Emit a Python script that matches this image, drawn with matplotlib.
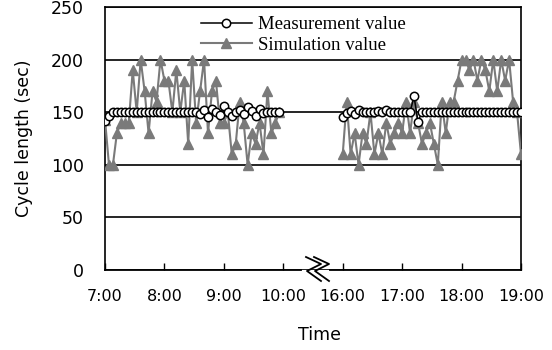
"""Cycle length: measurement vs simulation, morning and evening peaks."""

import matplotlib

matplotlib.use("Agg")
import matplotlib.pyplot as plt
import numpy as np

# sample times, minutes after 7:00 (afternoon block placed one hour after 10:00)
am_time = np.arange(0, 180, 4)
pm_time = np.arange(240, 424, 4)

am_meas = [142, 146, 150, 150, 150, 150, 150, 150, 150, 150, 150, 150,
           150, 150, 150, 150, 150, 150, 150, 150, 150, 150, 150, 150,
           148, 152, 145, 153, 150, 147, 156, 150, 146, 150, 152, 148,
           155, 151, 146, 153, 149, 150, 150, 150, 150]
am_sim = [143, 100, 100, 130, 140, 140, 140, 190, 150, 200, 170, 130,
          170, 160, 200, 180, 180, 150, 190, 150, 180, 120, 200, 140,
          170, 200, 130, 170, 180, 140, 140, 150, 110, 120, 160, 140,
          100, 130, 120, 140, 110, 170, 130, 140, 150]

pm_meas = [145, 149, 151, 148, 152, 150, 150, 150, 150, 151, 150, 152,
           150, 150, 150, 150, 150, 150, 165, 141, 150, 150, 150, 150,
           150, 150, 150, 150, 150, 150, 150, 150, 150, 150, 150, 150,
           150, 150, 150, 150, 150, 150, 150, 150, 150, 150]
pm_sim = [110, 160, 110, 130, 100, 130, 120, 150, 110, 130, 110, 140,
          120, 130, 140, 130, 160, 130, 160, 140, 120, 130, 140, 120,
          100, 160, 130, 160, 160, 180, 200, 200, 190, 200, 180, 200,
          190, 170, 200, 170, 200, 180, 200, 160, 150, 110]

tick_pos = [0, 60, 120, 180, 240, 300, 360, 420]
tick_labels = ["7:00", "8:00", "9:00", "10:00", "16:00", "17:00", "18:00", "19:00"]

W, H = 552, 350
fig = plt.figure(figsize=(W / 100, H / 100), dpi=100)
ax = fig.add_axes([105 / W, 1 - 270 / H, 416 / W, 263 / H])

gray = "#7a7a7a"
for t, s in [(am_time, am_sim), (pm_time, pm_sim)]:
    sim_line, = ax.plot(t, s, color=gray, lw=1.5, marker="^", ms=6.5, mfc=gray, mec=gray,
                        zorder=3)
for t, m in [(am_time, am_meas), (pm_time, pm_meas)]:
    meas_line, = ax.plot(t, m, color="black", lw=1.1, marker="o", ms=6, mfc="white",
                         mec="black", mew=1.1, zorder=4)

ax.set_xlim(0, 420)
ax.set_ylim(0, 250)
ax.set_yticks([0, 50, 100, 150, 200, 250])
ax.set_xticks(tick_pos)
ax.set_xticklabels(tick_labels, fontsize=11.5)
ax.tick_params(axis="x", direction="in", length=5, width=1, pad=14)
ax.tick_params(axis="y", direction="in", length=0, labelsize=12.5, pad=15)
ax.yaxis.grid(True, color="black", lw=1.2)
ax.set_axisbelow(True)
for sp in ["left", "right", "top"]:
    ax.spines[sp].set_linewidth(1.2)
ax.spines["bottom"].set_visible(False)

# broken x axis line with a break mark
px = lambda x, y: (x / W, 1 - y / H)
for x0, x1 in [(105, 301), (330, 521)]:
    fig.add_artist(plt.Line2D([x0 / W, x1 / W], [1 - 270 / H] * 2, color="black", lw=1.3,
                              transform=fig.transFigure))
for dx in (0, 8):
    pts = [px(306 + dx, 257), px(321 + dx, 264), px(307 + dx, 271), px(321 + dx, 281)]
    xs, ys = zip(*pts)
    fig.add_artist(plt.Line2D(xs, ys, color="black", lw=1.3, transform=fig.transFigure))

ax.set_ylabel("Cycle length (sec)", fontsize=12.5, labelpad=13)
fig.text(319 / W, 1 - 335 / H, "Time", fontsize=12.5, ha="center", va="center")

ax.legend([meas_line, sim_line], ["Measurement value", "Simulation value"],
          loc="upper left", bbox_to_anchor=(0.19, 1.03), frameon=False, handlelength=2.7,
          handletextpad=0.35, labelspacing=0.2,
          prop={"family": "Liberation Serif", "size": 13.5})

fig.savefig("out.png", dpi=100)
